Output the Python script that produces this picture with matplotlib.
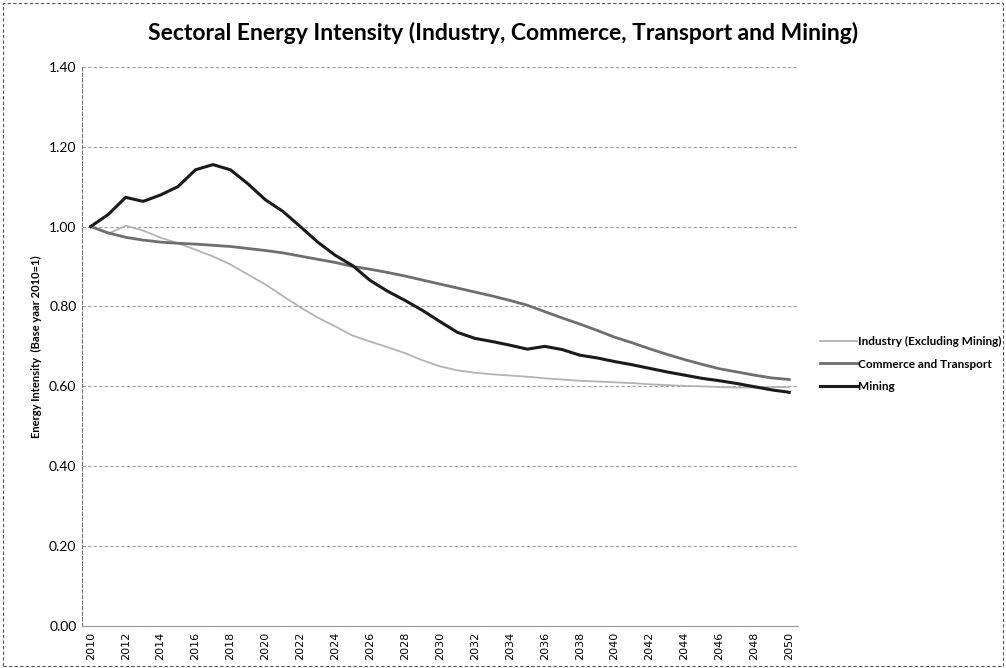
import matplotlib.pyplot as plt
import numpy as np
from matplotlib.patches import Rectangle

plt.rcParams['font.family'] = ['Lato', 'DejaVu Sans']

# data (base year 2010 = 1)
years = list(range(2010, 2051))
industry = [1.000, 0.982, 1.002, 0.990, 0.972, 0.958, 0.942, 0.925, 0.905, 0.880,
            0.855, 0.826, 0.798, 0.772, 0.750, 0.727, 0.712, 0.698, 0.683, 0.665,
            0.650, 0.640, 0.634, 0.630, 0.627, 0.624, 0.620, 0.617, 0.614, 0.612,
            0.610, 0.608, 0.605, 0.603, 0.601, 0.600, 0.598, 0.597, 0.597, 0.598,
            0.598]
commerce = [1.000, 0.984, 0.973, 0.966, 0.961, 0.958, 0.956, 0.953, 0.950, 0.945,
            0.940, 0.934, 0.926, 0.918, 0.910, 0.900, 0.893, 0.885, 0.876, 0.866,
            0.856, 0.846, 0.836, 0.826, 0.815, 0.803, 0.787, 0.771, 0.756, 0.740,
            0.723, 0.709, 0.694, 0.680, 0.667, 0.655, 0.644, 0.636, 0.628, 0.621,
            0.617]
mining = [1.000, 1.030, 1.073, 1.063, 1.079, 1.100, 1.142, 1.155, 1.142, 1.107,
          1.067, 1.038, 1.000, 0.961, 0.928, 0.902, 0.865, 0.838, 0.815, 0.790,
          0.762, 0.735, 0.720, 0.712, 0.703, 0.693, 0.700, 0.692, 0.678, 0.671,
          0.662, 0.654, 0.645, 0.636, 0.628, 0.620, 0.614, 0.607, 0.599, 0.591,
          0.585]
labels = ['Industry (Excluding Mining)', 'Commerce and Transport', 'Mining']
yticks = [0.0, 0.2, 0.4, 0.6, 0.8, 1.0, 1.2, 1.4]

fig = plt.figure(figsize=(10.06, 6.68), dpi=100)
ax = fig.add_axes([0.0815, 0.0629, 0.7117, 0.8372])

x = np.arange(len(years))
l1, = ax.plot(x, industry, color='#b3b3b3', linewidth=1.3)
l2, = ax.plot(x, commerce, color='#6e6e6e', linewidth=2.0)
l3, = ax.plot(x, mining, color='#1a1a1a', linewidth=2.2)

ax.set_xlim(-0.5, len(years) - 0.5)
ax.set_ylim(0, 1.4)
ax.set_yticks(yticks)
ax.set_yticklabels(['%.2f' % v for v in yticks], fontsize=10)
ax.set_xticks(x[::2])
ax.set_xticklabels([str(y) for y in years[::2]], rotation=90, fontsize=8,
                   family='DejaVu Sans')
ax.tick_params(axis='y', length=0, pad=4)
ax.tick_params(axis='x', length=0, pad=4)
ax.yaxis.grid(True, color='#a0a0a0', linestyle=(0, (3, 2)), linewidth=0.8)
ax.set_axisbelow(True)
for s in ['top', 'right']:
    ax.spines[s].set_visible(False)
ax.spines['left'].set_color('#777777')
ax.spines['left'].set_linestyle((0, (3, 2)))
ax.spines['left'].set_linewidth(0.8)
ax.spines['bottom'].set_color('#999999')
ax.spines['bottom'].set_linewidth(0.8)

ax.set_ylabel('Energy Intensity  (Base yaar 2010=1)', fontsize=8, fontweight='bold',
              labelpad=5)

fig.text(0.5, 0.951, 'Sectoral Energy Intensity (Industry, Commerce, Transport and Mining)',
         ha='center', va='center', fontsize=16.5, fontweight='bold')

fig.legend([l1, l2, l3], labels, loc='center left', bbox_to_anchor=(0.805, 0.455),
           frameon=False, handlelength=3.1, handletextpad=0.1,
           labelspacing=0.95, prop={'size': 8.5, 'weight': 'bold'})

# thin dashed border of the chart area
fig.patches.append(Rectangle((0.003, 0.003), 0.994, 0.992, transform=fig.transFigure,
                             fill=False, edgecolor='#555555', linewidth=0.8,
                             linestyle=(0, (3, 2))))

fig.savefig('out.png', dpi=100)
